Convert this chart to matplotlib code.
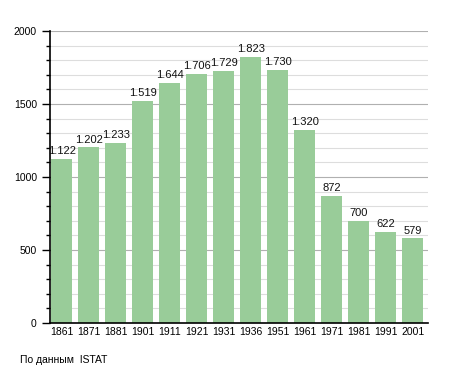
import numpy as np
import matplotlib
matplotlib.use('Agg')
from matplotlib import pyplot as plt

plt.rcParams['font.family'] = ['Liberation Sans', 'DejaVu Sans']

years = ['1861', '1871', '1881', '1901', '1911', '1921', '1931', '1936',
         '1951', '1961', '1971', '1981', '1991', '2001']
population = [1122, 1202, 1233, 1519, 1644, 1706, 1729, 1823,
              1730, 1320, 872, 700, 622, 579]
labels = ['1.122', '1.202', '1.233', '1.519', '1.644', '1.706', '1.729', '1.823',
          '1.730', '1.320', '872', '700', '622', '579']

fig = plt.figure(figsize=(4.55, 3.73), dpi=100)
ax = fig.add_axes([0.110, 0.134, 0.830, 0.783])

x = np.arange(len(years))
# сетка
for v in range(100, 2001, 100):
    ax.axhline(v, color='#b0b0b0' if v % 500 == 0 else '#dddddd', lw=0.8, zorder=0)
ax.bar(x, population, width=0.78, color='#99cc99', zorder=2)
for xi, val, lab in zip(x, population, labels):
    ax.text(xi, val + 20, lab, ha='center', va='bottom', fontsize=8, color='#111111')

ax.set_xlim(-0.43, 13.55)
ax.set_ylim(0, 2000)
ax.set_xticks(x)
ax.set_xticklabels(years, fontsize=7.5)
ax.set_yticks([0, 500, 1000, 1500, 2000])
ax.set_yticklabels(['0', '500', '1000', '1500', '2000'], fontsize=7.5)
ax.set_yticks(range(0, 2001, 100), minor=True)
ax.tick_params(axis='x', length=0, pad=3)
ax.tick_params(axis='y', which='major', length=6, width=1, direction='out')
ax.tick_params(axis='y', which='minor', length=3, width=1, direction='out')
for s in ['top', 'right']:
    ax.spines[s].set_visible(False)
ax.spines['left'].set_linewidth(1.2)
ax.spines['bottom'].set_linewidth(1.2)

fig.text(20 / 455, 1 - 360 / 373, 'По данным  ISTAT', fontsize=7.5, va='center')

plt.savefig('out.png', dpi=100)
